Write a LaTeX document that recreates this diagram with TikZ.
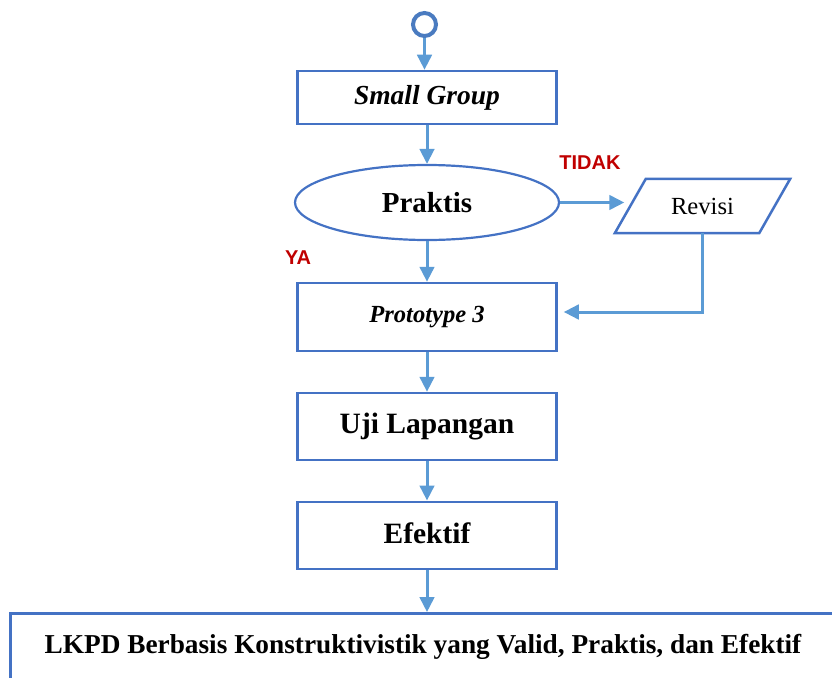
\documentclass[tikz,border=0pt]{standalone}
\usepackage{fontspec}
\setmainfont{Liberation Serif}
\setsansfont{Liberation Sans}
\usetikzlibrary{arrows.meta,shapes.geometric,calc}
\definecolor{arrowblue}{HTML}{5B9BD5}
\definecolor{boxblue}{HTML}{4472C4}
\definecolor{circblue}{HTML}{4A7BC0}
\definecolor{labelred}{HTML}{C00000}
\begin{document}
\begin{tikzpicture}[x=1pt,y=-1pt,
  box/.style={draw=boxblue, line width=2.5pt, rectangle, minimum width=259pt, inner sep=0pt},
  conn/.style={draw=arrowblue, line width=3pt, -{Triangle[length=15pt,width=14.5pt]}},
  tag/.style={font=\sffamily\bfseries\fontsize{20}{24}\selectfont, text=labelred, inner sep=0pt},
]
\useasboundingbox (0,0) rectangle (832,677);
\clip (0,0) rectangle (832,677);
% nodes
\node[circle, draw=circblue, line width=4pt, minimum size=23pt, inner sep=0pt] (start) at (424.5,24.5) {};
\node[box, minimum height=53pt, font=\bfseries\itshape\fontsize{27.5}{33}\selectfont] (sg) at (427,97.5) {\raisebox{-2pt}{Small Group}};
\node[ellipse, draw=boxblue, line width=2.2pt, minimum width=264pt, minimum height=75pt, inner sep=0pt, font=\bfseries\fontsize{29}{35}\selectfont] (praktis) at (427,202.5) {\raisebox{-1.5pt}{Praktis}};
\node[minimum width=144pt, minimum height=54pt, inner sep=0pt, font=\fontsize{24.6}{30}\selectfont] (revisi) at (702.5,206) {Revisi};
\draw[draw=boxblue, line width=2.5pt] ($(revisi.south west)+(-15.5,0)$) -- ($(revisi.south east)+(-15.5,0)$) -- ($(revisi.north east)+(15.5,0)$) -- ($(revisi.north west)+(15.5,0)$) -- cycle;
\node[box, minimum height=68pt, font=\bfseries\itshape\fontsize{24.6}{30}\selectfont] (proto) at (427,317) {\raisebox{6pt}{Prototype 3}};
\node[box, minimum height=67pt, font=\bfseries\fontsize{29.5}{35}\selectfont] (uji) at (427,426.5) {\raisebox{5pt}{Uji Lapangan}};
\node[box, minimum height=67.3pt, font=\bfseries\fontsize{29.5}{35}\selectfont] (efektif) at (427,535.4) {\raisebox{5.4pt}{Efektif}};
\node[box, minimum width=824.6pt, minimum height=67pt, font=\bfseries\fontsize{27.3}{33}\selectfont] (bottom) at (423,646.8) {\raisebox{3pt}{LKPD Berbasis Konstruktivistik yang Valid, Praktis, dan Efektif}};
\node[tag] (tidak) at (590,163) {TIDAK};
\node[tag] (ya) at (298,258) {YA};
% connectors
\draw[conn] (start.south) -- (start.south |- sg.north);
\draw[conn] (sg.south) -- (sg.south |- praktis.north);
\draw[conn] (praktis.south) -- (praktis.south |- proto.north);
\draw[conn, shorten >=6pt] (praktis.east) -- (praktis.east -| revisi.west);
\draw[conn, shorten >=6pt] (revisi.south) |- ([yshift=5pt]proto.east);
\draw[conn] (proto.south) -- (proto.south |- uji.north);
\draw[conn] (uji.south) -- (uji.south |- efektif.north);
\draw[conn] (efektif.south) -- (efektif.south |- bottom.north);
\end{tikzpicture}
\end{document}
